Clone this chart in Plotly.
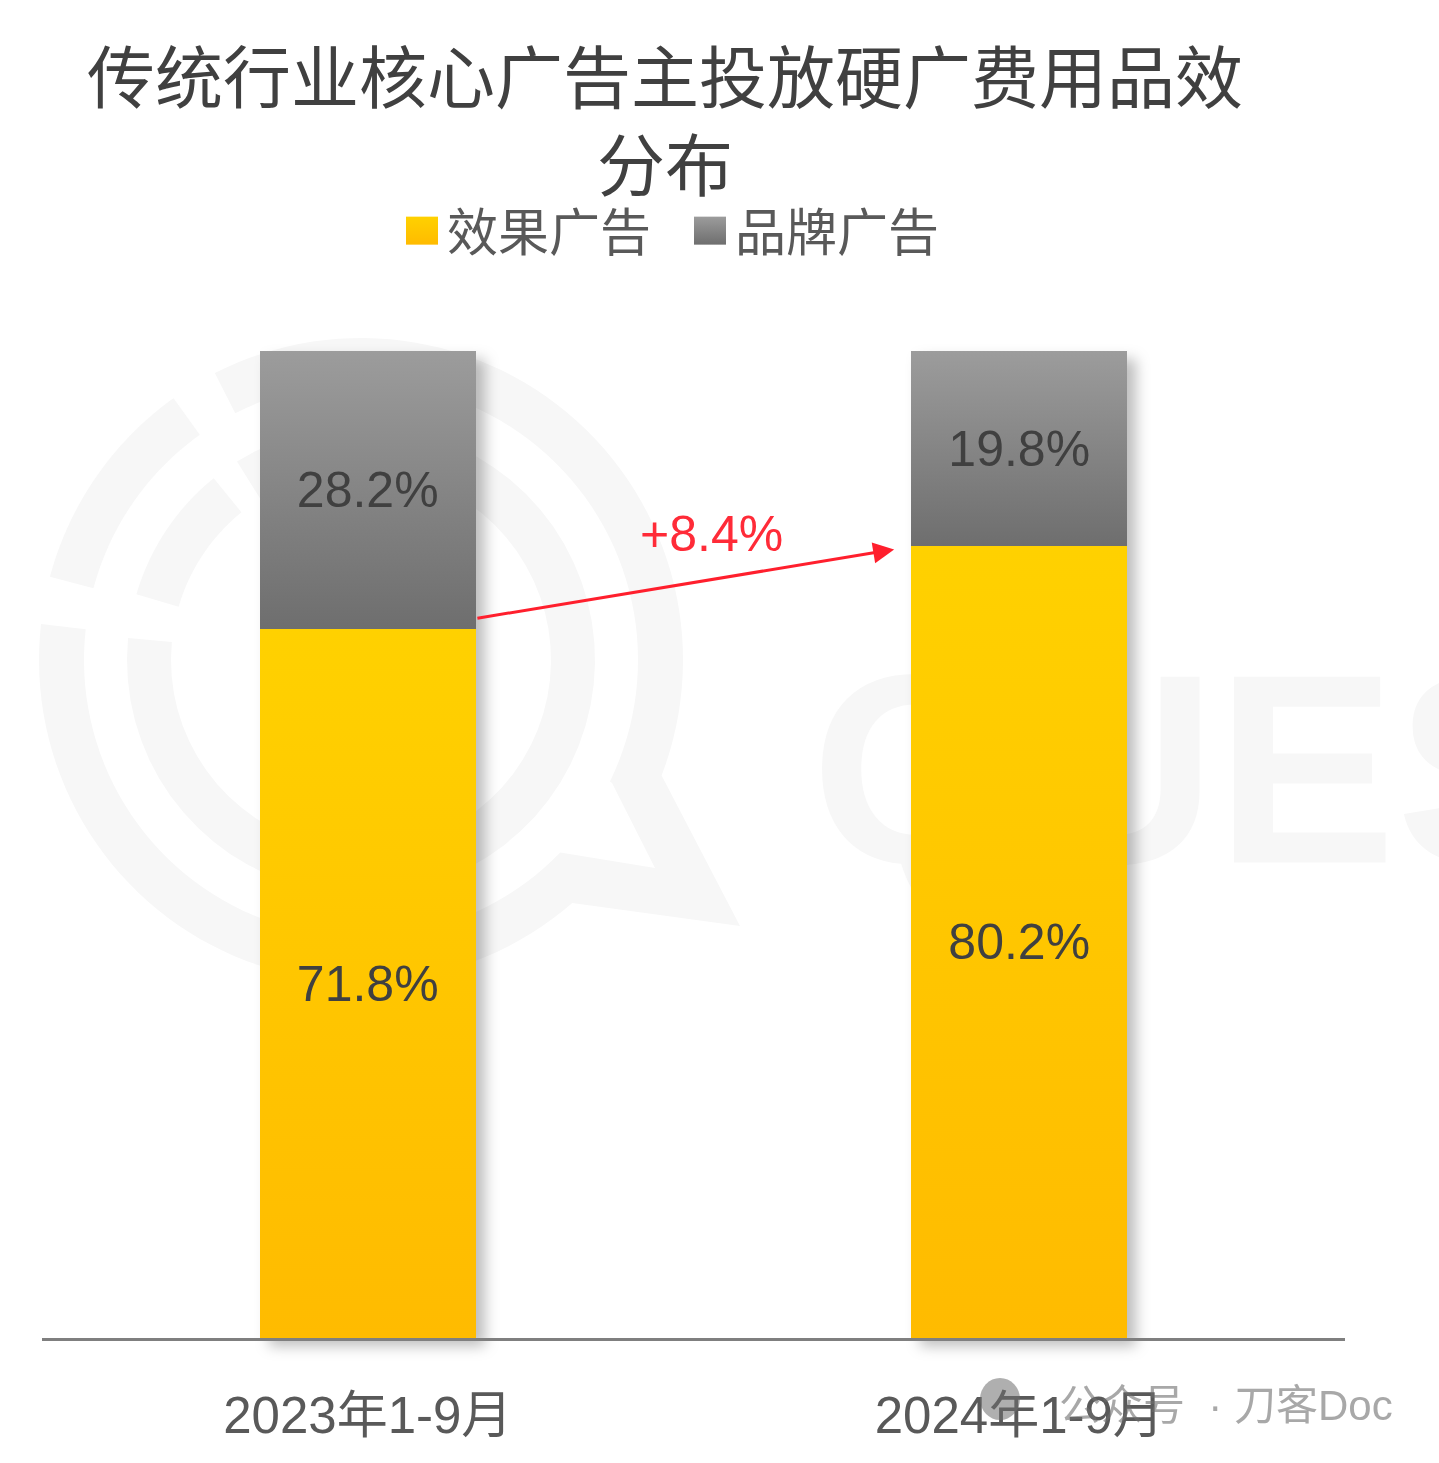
import math
import plotly.graph_objects as go

# ---- data ----
categories = ["2023年1-9月", "2024年1-9月"]
performance_ads = [71.8, 80.2]
brand_ads = [28.2, 19.8]
performance_name = "效果广告"
brand_name = "品牌广告"
title_text = "传统行业核心广告主投放硬广费用品效<br>分布"
change_label = "+8.4%"
arrow_from = (0.166, 72.9)
arrow_to = (0.808, 79.9)
source_mark = "公众号\u00a0 · 刀客Doc"
backdrop_mark = "QUES"

W, H = 1439, 1463
L, R, T, B = 42, 94, 351, 125
PW, PH = W - L - R, H - T - B
FONT = "Liberation Sans, Arial, Noto Sans CJK SC, sans-serif"
PALE = "#f7f7f7"


def pap(px, py):
    return (px - L) / PW, (H - B - py) / PH


def to_path(pts):
    out = []
    for i, (px, py) in enumerate(pts):
        x, y = pap(px, py)
        out.append(f"{'M' if i == 0 else 'L'}{x:.5f},{y:.5f}")
    return " ".join(out) + " Z"


CX, CY = 361, 660


def arc(r, a0, a1, n=60):
    return [(CX + r * math.cos(math.radians(a0 + (a1 - a0) * i / n)),
             CY - r * math.sin(math.radians(a0 + (a1 - a0) * i / n))) for i in range(n + 1)]


rings = [
    arc(322, 117, -21) + [(740, 926)] + arc(322, -49, -186.4) + arc(277, -186.4, -44)
    + [(655, 868), (612, 783)] + arc(277, -26, 117),
    arc(322, 165, 125.6) + arc(277, 125.6, 165),
    arc(234, 122, -185.4) + arc(190, -185.4, 122),
    arc(234, 163.7, 129) + arc(190, 129, 163.7),
]
shapes = [dict(type="path", xref="paper", yref="paper", path=to_path(p),
               fillcolor=PALE, line_width=0, layer="below") for p in rings]

x0, y0 = pap(805, 643)
x1, y1 = pap(1500, 843)
shapes.append(dict(type="rect", xref="paper", yref="paper", x0=x0, x1=x1, y0=y1, y1=y0,
                   line_width=0, fillcolor="rgba(0,0,0,0)", layer="below",
                   label=dict(text=f"<b>{backdrop_mark}</b>", textposition="middle left",
                              font=dict(family=FONT, size=270, color=PALE))))
ix0, iy0 = pap(980, 1378)
ix1, iy1 = pap(1020, 1420)
shapes.append(dict(type="circle", xref="paper", yref="paper", x0=ix0, x1=ix1, y0=iy1, y1=iy0,
                   line_width=0, fillcolor="rgba(110,110,110,0.55)", layer="above"))

lx, ly = pap(397, 191)
sx, sy = pap(1395, 1405)

fig = go.Figure()
fig.add_bar(x=categories, y=performance_ads, name=performance_name, marker_color="#FFC600",
            text=[f"{v}%" for v in performance_ads])
fig.add_bar(x=categories, y=brand_ads, name=brand_name, marker_color="#858585",
            text=[f"{v}%" for v in brand_ads])
fig.update_traces(textposition="inside", insidetextanchor="middle", textangle=0,
                  textfont=dict(family=FONT, size=50, color="#404040"),
                  marker_line_width=0, cliponaxis=False)

fig.update_layout(
    width=W, height=H, barmode="stack", bargap=0.668,
    margin=dict(l=L, r=R, t=T, b=B, pad=0),
    paper_bgcolor="white", plot_bgcolor="rgba(0,0,0,0)",
    font=dict(family=FONT),
    title=dict(text=title_text, x=665 / W, xanchor="center", y=1 - 103 / H, yanchor="top",
               font=dict(family=FONT, size=68, color="#404040")),
    legend=dict(orientation="h", x=lx, xanchor="left", y=ly, yanchor="top",
                font=dict(family=FONT, size=51, color="#595959"), itemwidth=40,
                entrywidth=233, entrywidthmode="pixels",
                bgcolor="rgba(0,0,0,0)", traceorder="normal", itemclick=False),
    xaxis=dict(showline=True, linecolor="#7f7f7f", linewidth=3, ticks="", showgrid=False,
               tickfont=dict(family=FONT, size=51, color="#595959"), zeroline=False,
               ticklabelstandoff=31),
    yaxis=dict(range=[0, 100], visible=False, showgrid=False, zeroline=False),
    shapes=shapes,
    annotations=[
        dict(x=arrow_to[0], y=arrow_to[1], ax=arrow_from[0], ay=arrow_from[1], xref="x", yref="y",
             axref="x", ayref="y", text="", showarrow=True, arrowcolor="#FF1F2D", arrowwidth=3,
             arrowhead=2, arrowsize=1.4, standoff=0, startstandoff=0),
        dict(x=(arrow_from[0] + arrow_to[0]) / 2 + 0.04, y=81.5, xref="x", yref="y", text=change_label,
             showarrow=False, yanchor="middle",
             font=dict(family=FONT, size=50, color="#FF2B38")),
        dict(x=sx, y=sy, xref="paper", yref="paper", text=source_mark, showarrow=False,
             xanchor="right", yanchor="middle",
             font=dict(family=FONT, size=42, color="rgba(110,110,110,0.6)")),
    ],
)

post = """
document.body.style.margin='0';
document.documentElement.style.overflow='hidden';
var gd=document.querySelector('.plotly-graph-div');
var svg=gd.querySelector('svg.main-svg');
var NS='http://www.w3.org/2000/svg';
var defs=svg.querySelector('defs')||svg.insertBefore(document.createElementNS(NS,'defs'),svg.firstChild);
function grad(id,a,b){var g=document.createElementNS(NS,'linearGradient');g.setAttribute('id',id);
 g.setAttribute('x1','0');g.setAttribute('y1','0');g.setAttribute('x2','0');g.setAttribute('y2','1');
 [[0,a],[1,b]].forEach(function(s){var t=document.createElementNS(NS,'stop');t.setAttribute('offset',s[0]);t.setAttribute('stop-color',s[1]);g.appendChild(t);});
 defs.appendChild(g);}
grad('gradPerf','#FFD100','#FFBB00');grad('gradBrand','#9C9C9C','#6E6E6E');
var ids=['gradPerf','gradBrand'];
gd.querySelectorAll('.barlayer .trace').forEach(function(tr,i){
 tr.querySelectorAll('.point path').forEach(function(p){p.style.setProperty('fill','url(#'+ids[i]+')');});
});
var bl=gd.querySelector('.barlayer');
if(bl){bl.style.filter='drop-shadow(9px 8px 7px rgba(0,0,0,0.26))';}
gd.querySelectorAll('.legend .traces').forEach(function(tr,i){
 tr.querySelectorAll('.legendpoints path').forEach(function(p){
  p.setAttribute('d','M16,14H-16V-14H16Z');p.style.setProperty('fill','url(#'+ids[i]+')');});
});
"""
fig.write_html("out.html", post_script=post, config=dict(displayModeBar=False))
